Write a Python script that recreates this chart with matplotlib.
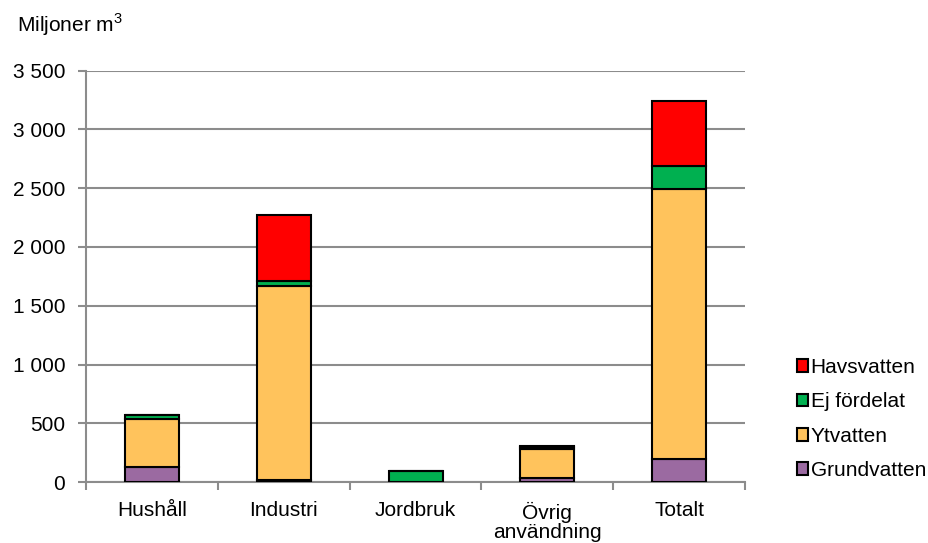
import matplotlib
matplotlib.use("Agg")
import matplotlib.pyplot as plt
from matplotlib.ticker import FuncFormatter
from matplotlib.patches import Patch
import numpy as np

plt.rcParams['font.family'] = ['Liberation Sans', 'DejaVu Sans']
plt.rcParams['mathtext.fontset'] = 'custom'
plt.rcParams['mathtext.rm'] = 'Liberation Sans'

categories = ["Hushåll", "Industri", "Jordbruk", "Övrig\nanvändning", "Totalt"]
series_names = ["Grundvatten", "Ytvatten", "Ej fördelat", "Havsvatten"]
grundvatten = [130, 17, 0, 30, 196]
ytvatten = [407, 1650, 0, 250, 2300]
ej_fordelat = [35, 40, 96, 18, 195]
havsvatten = [0, 562, 0, 8, 552]
colors = ["#9B6AA1", "#FFC35C", "#00B050", "#FF0000"]
yticks = [0, 500, 1000, 1500, 2000, 2500, 3000, 3500]

FS = 15
fig = plt.figure(figsize=(9.29, 5.43), dpi=100)
ax = fig.add_axes([0.0926, 0.1123, 0.802 - 0.0926, 0.8698 - 0.1123])

x = np.arange(len(categories))
data = [grundvatten, ytvatten, ej_fordelat, havsvatten]
bottom = np.zeros(len(categories))
for vals, c, name in zip(data, colors, series_names):
    vals = np.array(vals, dtype=float)
    ax.bar(x, vals, 0.41, bottom=bottom, color=c, edgecolor="black",
           linewidth=1.5, label=name, zorder=3)
    bottom += vals

ax.set_xlim(-0.5, len(categories) - 0.5)
ax.set_ylim(0, 3500)
ax.set_yticks(yticks)
ax.yaxis.set_major_formatter(FuncFormatter(lambda v, p: f"{int(v):,}".replace(",", " ")))
ax.yaxis.grid(True, color="#8c8c8c", linewidth=1.5, zorder=0)
ax.set_axisbelow(True)

ax.set_xticks(x)
ax.set_xticklabels(categories, fontsize=FS, linespacing=1.0)
ax.set_xticks(np.arange(-0.5, len(categories)), minor=True)
ax.tick_params(axis="x", which="major", length=0, pad=14)
ax.tick_params(axis="x", which="minor", length=6, width=1.5, color="#8c8c8c", direction="out")
ax.tick_params(axis="y", length=6, width=1.5, color="#8c8c8c", labelsize=FS, pad=9)

for s in ["top", "right"]:
    ax.spines[s].set_visible(False)
for s in ["left", "bottom"]:
    ax.spines[s].set_color("#8c8c8c")
    ax.spines[s].set_linewidth(1.5)

fig.text(17 / 929, 1 - 25 / 543, "Miljoner m$^{3}$", fontsize=FS, va="center", ha="left")

handles = [Patch(facecolor=c, edgecolor="black", linewidth=1.5) for c in colors][::-1]
labels = series_names[::-1]
fig.legend(handles, labels, loc="center left", bbox_to_anchor=(797 / 929, 1 - 419 / 543),
           frameon=False, fontsize=FS, handlelength=0.55, handleheight=0.55,
           handletextpad=0.1, labelspacing=0.74, borderaxespad=0, borderpad=0)

fig.savefig("out.png", dpi=100)
